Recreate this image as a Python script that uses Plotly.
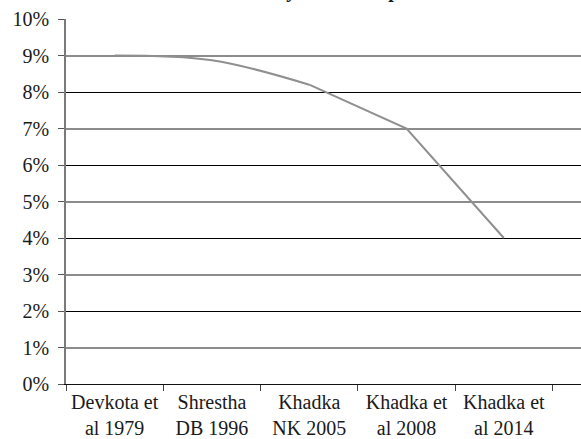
import plotly.graph_objects as go

# Studies (x categories) and reported prevalence (fraction)
studies = ["Devkota et<br>al 1979", "Shrestha<br>DB 1996", "Khadka<br>NK 2005",
           "Khadka et<br>al 2008", "Khadka et<br>al 2014"]
prevalence = [0.09, 0.0887, 0.082, 0.07, 0.04]

y_ticks = [i / 100 for i in range(0, 11)]
y_tick_text = [f"{i}%" for i in range(0, 11)]
title_text = "Prevalence Trend by Recent Reports"

serif = "Liberation Serif"
line_color = "#8f8f8f"

fig = go.Figure()

# overlay traces so the extra axes render their gridlines
fig.add_trace(go.Scatter(x=[studies[0]], y=[None], yaxis="y2", showlegend=False, hoverinfo="skip"))
fig.add_trace(go.Scatter(x=[studies[0]], y=[None], yaxis="y3", showlegend=False, hoverinfo="skip"))

# early studies drawn as a smoothed curve, later ones as straight segments
fig.add_trace(go.Scatter(
    x=studies[:3], y=prevalence[:3], mode="lines",
    line=dict(color=line_color, width=2, shape="spline", smoothing=1.0),
    showlegend=False, hoverinfo="skip",
))
fig.add_trace(go.Scatter(
    x=studies[2:], y=prevalence[2:], mode="lines",
    line=dict(color=line_color, width=2),
    showlegend=False, hoverinfo="skip",
))

fig.update_layout(
    width=581, height=439,
    margin=dict(l=66, r=0, t=19, b=55),
    paper_bgcolor="white", plot_bgcolor="white",
    font=dict(family=serif, size=20, color="#1a1a1a"),
    xaxis=dict(
        type="category", categoryorder="array", categoryarray=studies,
        range=[-0.5, 4.793],
        showgrid=False, showline=True, linecolor="#111111", linewidth=1,
        ticks="outside", tickson="boundaries", ticklen=6, tickcolor="#444444",
        tickfont=dict(family=serif, size=20, color="#1a1a1a"),
        zeroline=False, fixedrange=True,
    ),
    yaxis=dict(
        range=[0, 0.10], tickvals=y_ticks, ticktext=y_tick_text,
        showgrid=False, showline=True, linecolor="#7a7a7a", linewidth=1.5,
        ticks="outside", ticklen=6, tickcolor="#555555",
        ticklabelstandoff=5,
        tickfont=dict(family=serif, size=20, color="#1a1a1a"),
        zeroline=False, fixedrange=True,
    ),
    # odd-percent gridlines (lighter)
    yaxis2=dict(
        overlaying="y", range=[0, 0.10], tick0=0.01, dtick=0.02,
        showgrid=True, gridcolor="#8c8c8c", gridwidth=1.6,
        showticklabels=False, ticks="", showline=False, zeroline=False,
    ),
    # even-percent gridlines (dark)
    yaxis3=dict(
        overlaying="y", range=[0, 0.10], tick0=0, dtick=0.02,
        showgrid=True, gridcolor="#000000", gridwidth=1,
        showticklabels=False, ticks="", showline=False, zeroline=False,
    ),
)

# chart title, largely above the top edge of the canvas
fig.add_annotation(
    text=f"<b>{title_text}</b>", xref="paper", yref="paper",
    x=0.409, y=1.041, xanchor="center", yanchor="bottom", showarrow=False,
    font=dict(family=serif, size=20, color="#1a1a1a"),
)

fig.write_html("out.html")
